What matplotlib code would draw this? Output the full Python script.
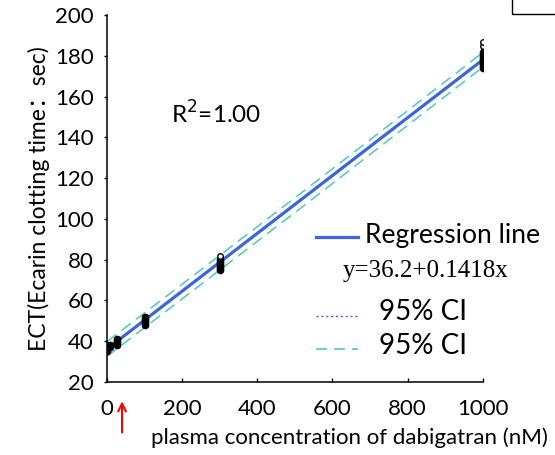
import numpy as np
import matplotlib.pyplot as plt
from matplotlib.lines import Line2D
from matplotlib.patches import Rectangle

# measured points (nM, sec)
x_pts = [0, 0, 0, 0, 8, 8, 27, 27, 27, 27,
         100, 100, 100, 100, 100,
         300, 300, 300, 300, 300, 300,
         1000, 1000, 1000, 1000, 1000, 1000, 1000, 1000, 1000]
y_pts = [35, 36, 37, 38, 37, 38, 38, 39, 40, 41,
         48, 49, 50, 51, 52,
         75, 76, 77, 78, 79, 80,
         174, 175, 176, 177, 178, 179, 180, 181, 182]
# open circles (outliers on top)
x_open = [300, 1000, 1000]
y_open = [82, 185, 187]

# regression line y = 36.2 + 0.1418x
intercept = 36.2
slope = 0.1418
x_line = [0, 1000]

# 95% CI bands
x_ci = [0, 500, 1000]
ci_upper = [39.8, 110.3, 181.6]
ci_lower = [32.6, 103.1, 174.4]

xticks = [0, 200, 400, 600, 800, 1000]
yticks = [20, 40, 60, 80, 100, 120, 140, 160, 180, 200]

plt.rcParams['font.family'] = ['Lato', 'Noto Sans CJK SC', 'DejaVu Sans']

fig = plt.figure(figsize=(5.55, 4.55), dpi=100)
ax = fig.add_axes([0.1928, 0.1604, 0.677, 0.8066])

blue = '#3d63dd'
cyan = '#5cc9c9'

y_line = [intercept + slope * v for v in x_line]
ax.plot(x_line, y_line, color=blue, lw=2.3, solid_capstyle='butt', zorder=2)
ax.plot(x_ci, ci_upper, color=cyan, lw=1.2, dashes=(7, 4), zorder=2)
ax.plot(x_ci, ci_lower, color=cyan, lw=1.2, dashes=(7, 4), zorder=2)

ax.plot(x_pts, y_pts, 'o', ms=4.5, mfc='black', mec='black', zorder=3)
ax.plot(x_open, y_open, 'o', ms=4, mfc='white', mec='black', mew=1, zorder=3)

ax.set_xlim(0, 1000)
ax.set_ylim(20, 200)
ax.set_xticks(xticks)
ax.set_yticks(yticks)
ax.spines['top'].set_visible(False)
ax.spines['right'].set_visible(False)
ax.spines['left'].set_linewidth(1.1)
ax.spines['bottom'].set_linewidth(1.1)
ax.tick_params(axis='y', direction='out', length=2.5, width=1, pad=7, labelsize=16)
ax.tick_params(axis='x', direction='in', length=3, width=1, pad=12, labelsize=16)

ax.set_ylabel('ECT(Ecarin clotting time：sec)', fontsize=16.5, labelpad=4)
fig.text(548 / 555, 1 - 438 / 455, 'plasma concentration of dabigatran (nM)',
         fontsize=16, ha='right', va='center')

ax.text(0.17, 0.73, 'R$^2$=1.00', transform=ax.transAxes, fontsize=17.5,
        ha='left', va='center')

# red arrow under the axis
ax.annotate('', xy=(40, -0.045), xycoords=('data', 'axes fraction'),
            xytext=(40, -0.145), textcoords=('data', 'axes fraction'),
            arrowprops=dict(arrowstyle='->', color='red', lw=1.5,
                            mutation_scale=14),
            annotation_clip=False)

# hand-made legend
def fx(px):
    return px / 555

def fy(py):
    return 1 - py / 455

fig.add_artist(Line2D([fx(316), fx(358)], [fy(237), fy(237)], color=blue, lw=2.3))
fig.text(fx(365), fy(235), 'Regression line', fontsize=19, va='center')
fig.text(fx(343), fy(271), 'y=36.2+0.1418x', fontsize=18, va='center',
         family='Liberation Serif')
fig.add_artist(Line2D([fx(316), fx(358)], [fy(316), fy(316)], color=blue, lw=1,
                      linestyle=(0, (1.5, 2))))
fig.text(fx(379), fy(312), '95% CI', fontsize=20, va='center')
fig.add_artist(Line2D([fx(316), fx(358)], [fy(349), fy(349)], color=cyan, lw=1.3,
                      dashes=(6, 4)))
fig.text(fx(379), fy(346), '95% CI', fontsize=20, va='center')

# clipped box at top right corner
fig.add_artist(Rectangle((fx(512), fy(14)), 0.2, 0.2, fill=False,
                         edgecolor='black', lw=1))

fig.savefig('out.png', dpi=100)
